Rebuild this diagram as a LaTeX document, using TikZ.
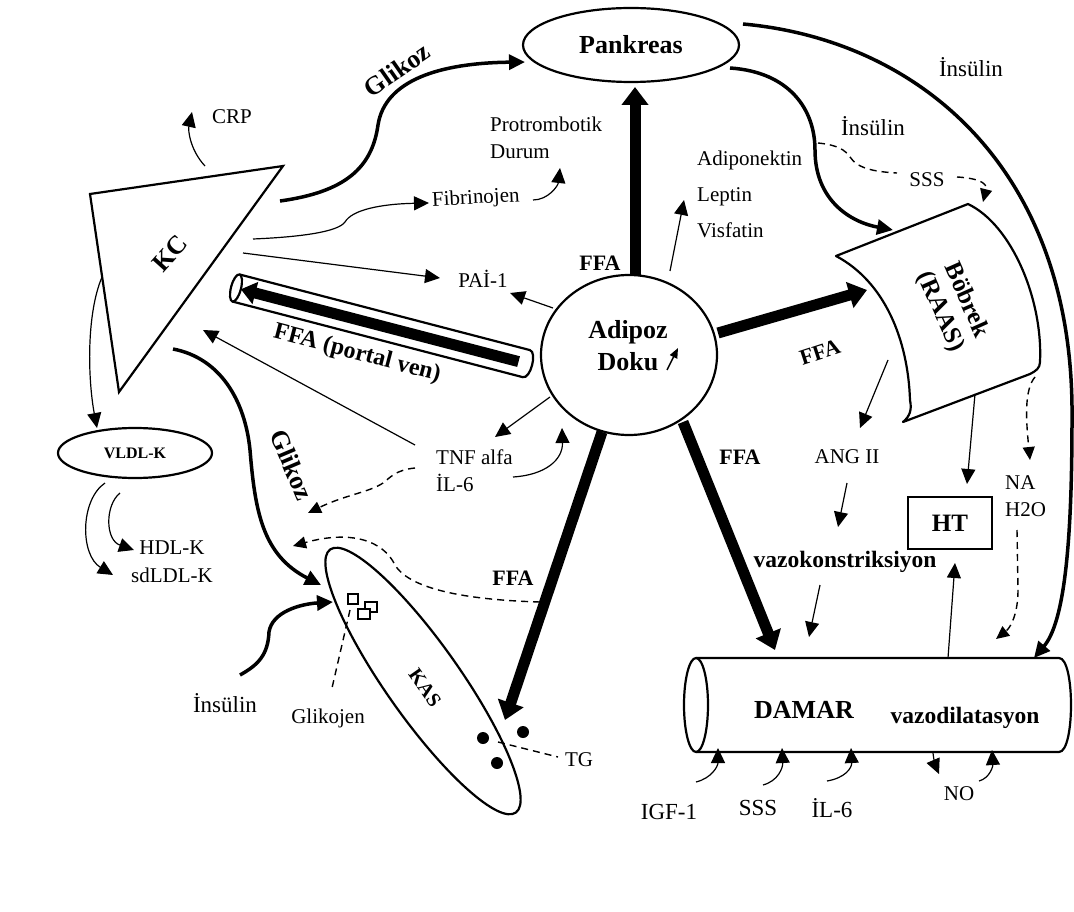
\documentclass[tikz,border=0pt]{standalone}
\usepackage{fontspec}
\setmainfont{Liberation Serif}
\usetikzlibrary{arrows.meta,shapes.geometric}
\begin{document}
\begin{tikzpicture}[x=1pt,y=-1pt,
  lbl/.style={font=\fontsize{21}{27}\selectfont, inner sep=0pt},
  lblL/.style={font=\fontsize{23}{27}\selectfont, inner sep=0pt},
  bl/.style={font=\bfseries\fontsize{26}{32}\selectfont, inner sep=0pt},
  ffalbl/.style={font=\bfseries\fontsize{22}{24}\selectfont, inner sep=0pt},
  outline/.style={line width=2.2pt},
  tarr/.style={line width=1.2pt, -{Triangle[length=15pt,width=14pt]}},
  thkarr/.style={line width=3.5pt, -{Triangle[length=16pt,width=15pt]}},
  ffa/.style={line width=11pt, -{Triangle[length=18pt,width=26pt]}},
  dsh/.style={line width=1.4pt, dash pattern=on 7pt off 5pt},
  dsharr/.style={dsh, -{Triangle[length=13pt,width=12pt]}},
]
\useasboundingbox (0,0) rectangle (1074,912);

% ---------- main shapes ----------
\node[draw, ellipse, outline, minimum width=216pt, minimum height=74pt, bl] (pank) at (631,45) {Pankreas};

\coordinate (kc1) at (90,194);
\coordinate (kc2) at (283,166);
\coordinate (kc3) at (119,392);
\draw[outline, line join=miter] (kc1) -- (kc2) -- (kc3) -- cycle;
\node[bl, rotate=48] (kc) at (170,253) {KC};

\node[draw, ellipse, outline, minimum width=176pt, minimum height=160pt] (adip) at (629,355) {};
\node[bl, align=center] (adiptxt) at (628,346) {Adipoz\\Doku};
\coordinate (dk1) at (667,370);
\coordinate (dk2) at (678,348);
\draw[line width=1.5pt, -{Triangle[length=10pt,width=8pt]}] (dk1) -- (dk2);

% Bobrek
\draw[outline, line join=round, fill=white] (836,256) -- (968,204)
  .. controls (1012,225) and (1043,300) .. (1040,362)
  .. controls (1040,368) and (1036,371) .. (1030,374) -- (903,422)
  .. controls (910,416) and (912,410) .. (910,400)
  .. controls (908,340) and (885,282) .. (836,256) -- cycle;
\node[font=\bfseries\fontsize{25}{28}\selectfont, rotate=-66, align=center, inner sep=0pt] (bob) at (953,306) {Böbrek\\(RAAS)};

% HT
\node[draw, outline, minimum width=84pt, minimum height=52pt, font=\bfseries\fontsize{25}{28}\selectfont] (ht) at (950,523) {HT};

% DAMAR
\draw[outline] (696,658) -- (1059,658) .. controls (1075,658) and (1075,752) .. (1059,752) -- (696,752);
\draw[outline, fill=white] (696,705) ellipse [x radius=12pt, y radius=47pt];
\node[font=\bfseries\fontsize{26}{28}\selectfont, inner sep=0pt] (damar) at (804,710) {DAMAR};
\node[font=\bfseries\fontsize{23.5}{26}\selectfont, inner sep=0pt] (vd) at (965,718) {vazodilatasyon};

% KAS
\node[draw, ellipse, outline, minimum width=322pt, minimum height=74pt, rotate=-54.8] (kas) at (423,681) {};
\node[font=\bfseries\fontsize{20}{22}\selectfont, rotate=-55, inner sep=0pt] (kastxt) at (425,688) {KAS};
\draw[line width=1.8pt, fill=white] (348,594) rectangle (358,604);
\draw[line width=1.8pt, fill=white] (365,602) rectangle (377,612);
\draw[line width=1.8pt, fill=white] (358,609) rectangle (370,619);
\fill (483,738) circle[radius=6pt];
\fill (523,732) circle[radius=6pt];
\fill (497,763) circle[radius=6pt];

% VLDL
\node[draw, ellipse, outline, minimum width=154pt, minimum height=50pt, font=\bfseries\fontsize{16}{18}\selectfont] (vldl) at (135,453) {VLDL-K};

% portal vein tube
\begin{scope}[shift={(236,288)}, rotate=-14.6]
  \draw[outline, fill=white] (0,14) -- (300,14) .. controls (308,14) and (308,-14) .. (300,-14) -- (0,-14);
  \draw[outline, fill=white] (0,0) ellipse [x radius=5pt, y radius=14pt];
  \coordinate (pvS) at (292,0);
  \coordinate (pvE) at (5,0);
  \draw[line width=11pt, -{Triangle[length=15pt,width=22pt]}] (pvS) -- (pvE);
\end{scope}
\node[font=\bfseries\fontsize{24}{26}\selectfont, rotate=-14.6, inner sep=0pt] (portal) at (357,354) {FFA (portal ven)};

% ---------- text labels ----------
\node[lbl] (crp) at (232,117) {CRP};
\node[bl, rotate=35] (glk1) at (397,70) {Glikoz};
\node[lbl, align=left, anchor=west] (prot) at (490,138) {Protrombotik\\Durum};
\node[lbl, anchor=west, rotate=3] (fib) at (432,201) {Fibrinojen};
\node[lbl] (pai) at (483,279) {PAİ-1};
\node[ffalbl] (ffa1) at (600,263) {FFA};
\node[lbl, anchor=west] (adpk) at (697,160) {Adiponektin};
\node[lbl, anchor=west] (lep) at (697,197) {Leptin};
\node[lbl, anchor=west] (vis) at (697,230) {Visfatin};
\node[lblL] (ins1) at (873,126) {İnsülin};
\node[lblL] (ins2) at (971,67) {İnsülin};
\node[lbl] (sss1) at (927,180) {SSS};
\node[ffalbl, rotate=18] (ffa2) at (820,352) {FFA};
\node[lbl] (ang) at (847,457) {ANG II};
\node[font=\bfseries\fontsize{23.5}{26}\selectfont, inner sep=0pt] (vk) at (845,562) {vazokonstriksiyon};
\node[lbl, align=left, anchor=west] (na) at (1005,496) {NA\\H2O};
\node[ffalbl] (ffa3) at (740,457) {FFA};
\node[ffalbl] (ffa4) at (513,578) {FFA};
\node[lblL] (igf) at (669,812) {IGF-1};
\node[lblL] (sss2) at (758,808) {SSS};
\node[lblL] (il6b) at (832,808) {İL-6};
\node[lbl] (no) at (959,794) {NO};
\node[lbl, align=left, anchor=west] (tnf) at (436,471) {TNF alfa\\İL-6};
\node[lblL] (ins3) at (225,703) {İnsülin};
\node[lbl] (glkj) at (328,718) {Glikojen};
\node[lbl] (tg) at (579,760) {TG};
\node[bl, rotate=-67] (glk2) at (292,465) {Glikoz};
\node[lbl] (hdl) at (172,548) {HDL-K};
\node[lbl] (sdl) at (172,575) {sdLDL-K};

% ---------- connector end points ----------
\coordinate (crpS) at (205,166);
\coordinate (crpE) at (192,112);
\coordinate (g1S) at (280,201);
\coordinate (g1E) at (525,62);
\coordinate (fibS) at (253,239);
\coordinate (fibE) at (429,203);
\coordinate (fibP) at (533,200);
\coordinate (protE) at (560,168);
\coordinate (kcPai) at (243,253);
\coordinate (paiE) at (440,278);
\coordinate (adPai) at (553,308);
\coordinate (paiE2) at (510,293);
\coordinate (adTop) at (635,276);
\coordinate (pankB) at (635,87);
\coordinate (adAdp) at (670,271);
\coordinate (adpE) at (684,200);
\coordinate (pk1) at (730,68);
\coordinate (bobT) at (893,230);
\coordinate (pk2) at (743,24);
\coordinate (damTR) at (1034,658);
\coordinate (sssA) at (818,143);
\coordinate (sssB) at (897,173);
\coordinate (sssC) at (957,177);
\coordinate (bobTR) at (983,202);
\coordinate (adR) at (718,333);
\coordinate (bobL) at (867,290);
\coordinate (bobAng) at (888,360);
\coordinate (angE) at (860,428);
\coordinate (angS) at (847,483);
\coordinate (vkE) at (838,527);
\coordinate (vkS) at (820,585);
\coordinate (damE1) at (809,637);
\coordinate (bobHt) at (975,394);
\coordinate (htE) at (967,484);
\coordinate (damHt) at (948,658);
\coordinate (htB) at (955,563);
\coordinate (bobNa) at (1035,377);
\coordinate (naE) at (1030,460);
\coordinate (h2oS) at (1017,530);
\coordinate (damE2) at (996,639);
\coordinate (adBR) at (683,422);
\coordinate (damFFA) at (775,650);
\coordinate (adB) at (602,432);
\coordinate (kasFFA) at (505,720);
\coordinate (igfS) at (696,782);
\coordinate (igfE) at (718,748);
\coordinate (sssS) at (763,785);
\coordinate (sssE) at (782,748);
\coordinate (il6S) at (827,781);
\coordinate (il6E) at (851,748);
\coordinate (noS) at (933,753);
\coordinate (noE) at (939,774);
\coordinate (noS2) at (979,781);
\coordinate (noE2) at (992,750);
\coordinate (sqG) at (350,610);
\coordinate (glkjE) at (332,688);
\coordinate (dotTG) at (498,742);
\coordinate (tgE) at (558,757);
\coordinate (insS) at (240,675);
\coordinate (kasIns) at (333,602);
\coordinate (kcG) at (173,349);
\coordinate (kasG) at (321,585);
\coordinate (kcV) at (102,277);
\coordinate (vldlT) at (97,428);
\coordinate (vl1) at (105,483);
\coordinate (sdlE) at (113,575);
\coordinate (vl2) at (120,493);
\coordinate (hdlE) at (134,550);
\coordinate (tnfS) at (415,445);
\coordinate (kcTip) at (203,330);
\coordinate (adTnf) at (550,397);
\coordinate (tnfE) at (495,437);
\coordinate (tnfR) at (513,477);
\coordinate (adBL) at (562,428);
\coordinate (tnfD) at (415,468);
\coordinate (kasD1) at (308,513);
\coordinate (adD) at (540,602);
\coordinate (kasD2) at (293,546);

% ---------- connectors ----------
\draw[tarr] (crpS) .. controls (190,150) and (188,130) .. (crpE);
\draw[thkarr] (g1S) .. controls (345,192) and (372,168) .. (378,125) .. controls (385,80) and (440,63) .. (g1E);
\draw[tarr] (fibS) .. controls (300,237) and (338,232) .. (345,222) .. controls (352,210) and (380,204) .. (fibE);
\draw[tarr] (fibP) .. controls (548,200) and (558,186) .. (protE);
\draw[tarr] (kcPai) -- (paiE);
\draw[tarr] (adPai) -- (paiE2);
\draw[ffa] (adTop) -- (pankB);
\draw[tarr] (adAdp) -- (adpE);
\draw[thkarr] (pk1) .. controls (790,72) and (815,110) .. (815,150) .. controls (815,200) and (850,222) .. (bobT);
\draw[thkarr] (pk2) .. controls (920,40) and (1075,170) .. (1072,420) .. controls (1072,560) and (1062,625) .. (damTR);
\draw[dsh] (sssA) .. controls (838,145) and (845,150) .. (850,157) .. controls (858,170) and (880,172) .. (sssB);
\draw[dsharr] (sssC) .. controls (975,178) and (988,182) .. (bobTR);
\draw[ffa] (adR) -- (bobL);
\draw[tarr] (bobAng) -- (angE);
\draw[tarr] (angS) -- (vkE);
\draw[tarr] (vkS) -- (damE1);
\draw[tarr] (bobHt) -- (htE);
\draw[tarr] (damHt) -- (htB);
\draw[dsharr] (bobNa) .. controls (1024,390) and (1026,420) .. (naE);
\draw[dsharr] (h2oS) -- (1018,590) .. controls (1018,615) and (1010,628) .. (damE2);
\draw[ffa] (adBR) -- (damFFA);
\draw[ffa] (adB) -- (kasFFA);
\draw[tarr] (igfS) .. controls (712,778) and (718,766) .. (igfE);
\draw[tarr] (sssS) .. controls (778,781) and (783,768) .. (sssE);
\draw[tarr] (il6S) .. controls (845,778) and (852,768) .. (il6E);
\draw[tarr] (noS) .. controls (934,762) and (936,767) .. (noE);
\draw[tarr] (noS2) .. controls (990,778) and (993,766) .. (noE2);
\draw[dsh] (sqG) -- (glkjE);
\draw[dsh] (dotTG) -- (tgE);
\draw[thkarr] (insS) .. controls (258,665) and (268,655) .. (269,632) .. controls (272,612) and (300,604) .. (kasIns);
\draw[thkarr] (kcG) .. controls (220,358) and (245,400) .. (250,450) .. controls (255,510) and (262,555) .. (kasG);
\draw[tarr] (kcV) .. controls (86,315) and (88,380) .. (vldlT);
\draw[tarr] (vl1) .. controls (80,500) and (80,555) .. (sdlE);
\draw[tarr] (vl2) .. controls (105,505) and (105,540) .. (hdlE);
\draw[tarr] (tnfS) -- (kcTip);
\draw[tarr] (adTnf) -- (tnfE);
\draw[tarr] (tnfR) .. controls (545,475) and (563,460) .. (adBL);
\draw[dsharr] (tnfD) .. controls (395,470) and (390,478) .. (383,483) .. controls (370,492) and (345,495) .. (kasD1);
\draw[dsharr] (adD) .. controls (470,600) and (410,590) .. (395,565) .. controls (383,540) and (350,530) .. (kasD2);
\end{tikzpicture}
\end{document}
